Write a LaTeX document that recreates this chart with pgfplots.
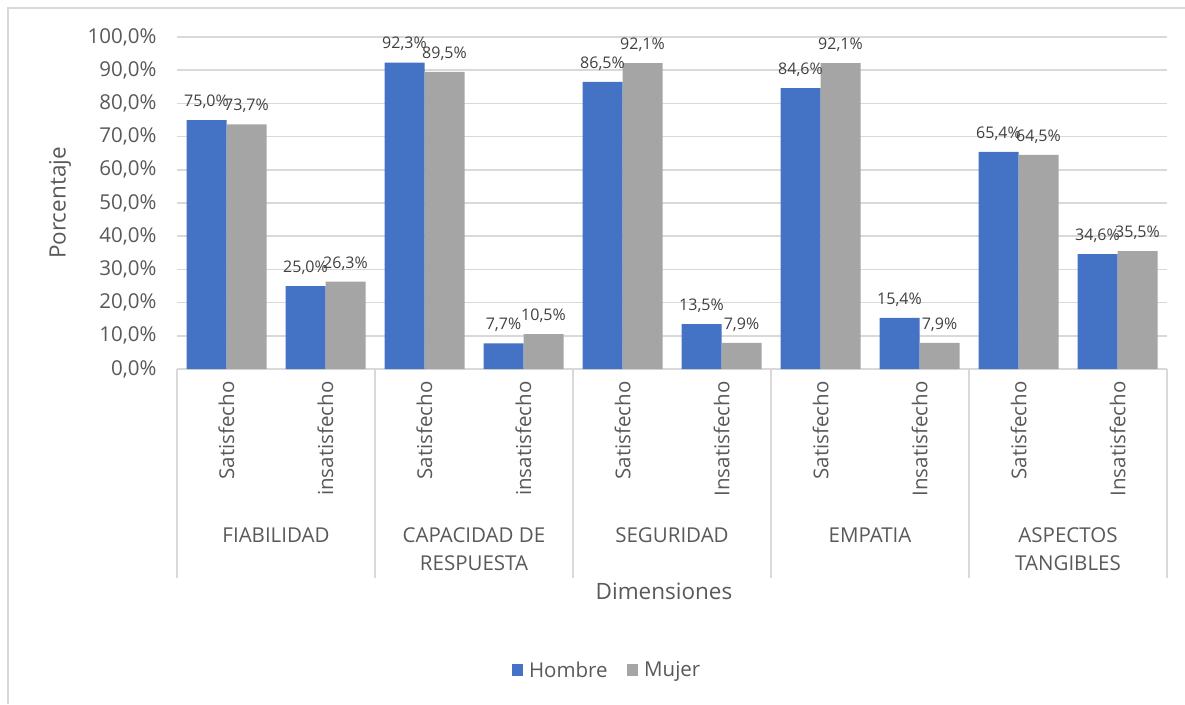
\documentclass[border=0pt]{standalone}
\usepackage{fontspec}
\setmainfont{Open Sans}
\usepackage{pgfplots}
\pgfplotsset{compat=1.18}
\definecolor{hblue}{HTML}{4472C4}
\definecolor{mgray}{HTML}{A5A5A5}
\definecolor{txt}{HTML}{595959}
\definecolor{lbl}{HTML}{404040}
\definecolor{gridc}{HTML}{D9D9D9}
\newcommand\fbase{\fontsize{20.5}{28}\selectfont}
\newcommand\ftitle{\fontsize{22.5}{28}\selectfont}
\newcommand\flabel{\fontsize{16}{19}\selectfont}
\begin{document}
\begin{tikzpicture}[x=1pt,y=1pt]
\path[use as bounding box] (0,0) rectangle (1185,-704);
\draw[gridc, line width=1.5pt] (8,-704) -- (8,-8) -- (1185,-8);
% y axis title
\node[rotate=90, font=\ftitle, text=txt] at (60,-203) {Porcentaje};
% x axis title
\node[anchor=base, font=\ftitle, text=txt] at (664,-599) {Dimensiones};
% group separators below the axis
\foreach \k in {0,...,5} {
  \draw[gridc, line width=1.5pt] (177+198*\k,-369) -- (177+198*\k,-578);
}
\begin{axis}[
  at={(177pt,-369pt)}, anchor=south west,
  scale only axis, width=990pt, height=332pt,
  xmin=0, xmax=10, ymin=0, ymax=100,
  ybar=0pt, bar width=40pt,
  clip=false,
  axis line style={draw=none},
  major tick length=0pt,
  xtick=\empty,
  ytick={0,10,20,30,40,50,60,70,80,90,100},
  ymajorgrids, grid style={gridc, line width=1.5pt},
  /pgf/number format/assume math mode=true,
  yticklabel={\pgfmathprintnumber[fixed,fixed zerofill,precision=1,use comma]{\tick}\%},
  yticklabel style={font=\fbase, text=txt, xshift=-17pt},
  nodes near coords={\pgfmathprintnumber[fixed,fixed zerofill,precision=1,use comma]{\pgfplotspointmeta}\%},
  nodes near coords style={font=\flabel, text=lbl, anchor=south, yshift=8pt},
  legend image code/.code={\path[#1] (0pt,-5.5pt) rectangle (11.5pt,6pt);},
  legend style={at={(0.4343,-0.9066)}, anchor=center, draw=none, fill=none,
    font=\fbase, text=txt, legend columns=2,
    /tikz/every odd column/.append style={column sep=4pt},
    /tikz/every even column/.append style={column sep=17pt}},
]
\addplot[fill=hblue, draw=none] coordinates {
  (0.5,75.0) (1.5,25.0) (2.5,92.3) (3.5,7.7) (4.5,86.5)
  (5.5,13.5) (6.5,84.6) (7.5,15.4) (8.5,65.4) (9.5,34.6)};
\addlegendentry{Hombre}
\addplot[fill=mgray, draw=none] coordinates {
  (0.5,73.7) (1.5,26.3) (2.5,89.5) (3.5,10.5) (4.5,92.1)
  (5.5,7.9) (6.5,92.1) (7.5,7.9) (8.5,64.5) (9.5,35.5)};
\addlegendentry{Mujer}
% subcategory labels
\node[rotate=90, anchor=east, font=\fbase, text=txt] at ([yshift=-9pt]axis cs:0.5,0) {Satisfecho};
\node[rotate=90, anchor=east, font=\fbase, text=txt] at ([yshift=-9pt]axis cs:1.5,0) {insatisfecho};
\node[rotate=90, anchor=east, font=\fbase, text=txt] at ([yshift=-9pt]axis cs:2.5,0) {Satisfecho};
\node[rotate=90, anchor=east, font=\fbase, text=txt] at ([yshift=-9pt]axis cs:3.5,0) {insatisfecho};
\node[rotate=90, anchor=east, font=\fbase, text=txt] at ([yshift=-9pt]axis cs:4.5,0) {Satisfecho};
\node[rotate=90, anchor=east, font=\fbase, text=txt] at ([yshift=-9pt]axis cs:5.5,0) {Insatisfecho};
\node[rotate=90, anchor=east, font=\fbase, text=txt] at ([yshift=-9pt]axis cs:6.5,0) {Satisfecho};
\node[rotate=90, anchor=east, font=\fbase, text=txt] at ([yshift=-9pt]axis cs:7.5,0) {Insatisfecho};
\node[rotate=90, anchor=east, font=\fbase, text=txt] at ([yshift=-9pt]axis cs:8.5,0) {Satisfecho};
\node[rotate=90, anchor=east, font=\fbase, text=txt] at ([yshift=-9pt]axis cs:9.5,0) {Insatisfecho};
% group labels (base = last line)
\node[anchor=base, align=center, font=\fbase, text=txt] at ([yshift=-173pt]axis cs:1,0) {FIABILIDAD};
\node[anchor=base, align=center, font=\fbase, text=txt] at ([yshift=-201pt]axis cs:3,0) {CAPACIDAD DE\\RESPUESTA};
\node[anchor=base, align=center, font=\fbase, text=txt] at ([yshift=-173pt]axis cs:5,0) {SEGURIDAD};
\node[anchor=base, align=center, font=\fbase, text=txt] at ([yshift=-173pt]axis cs:7,0) {EMPATIA};
\node[anchor=base, align=center, font=\fbase, text=txt] at ([yshift=-201pt]axis cs:9,0) {ASPECTOS\\TANGIBLES};
\end{axis}
\end{tikzpicture}
\end{document}
